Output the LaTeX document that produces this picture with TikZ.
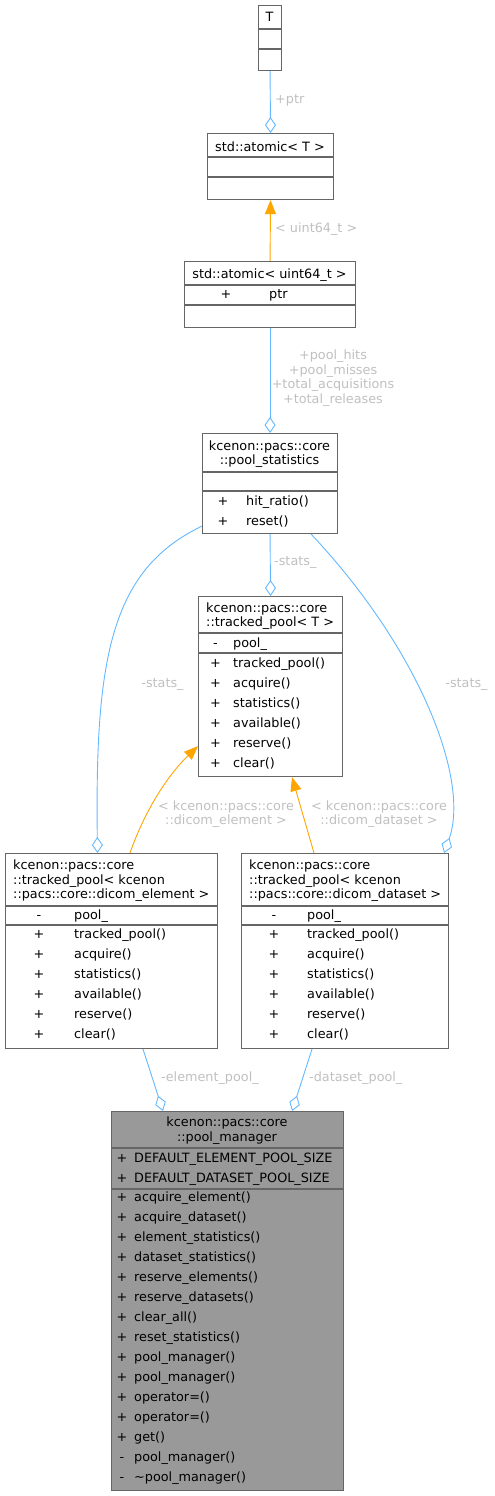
\documentclass[tikz,border=0pt]{standalone}
\usepackage{fontspec}
\setmainfont{DejaVu Sans}
\usetikzlibrary{arrows.meta}
\definecolor{edgeblue}{HTML}{63B8FF}
\definecolor{edgeorange}{HTML}{FFA500}
\definecolor{lblgray}{HTML}{C0C0C0}
\definecolor{boxgray}{HTML}{666666}
\definecolor{mgrfill}{HTML}{999999}
\newcommand{\dfont}{\fontsize{12.8}{14.6}\selectfont}
\begin{document}
\begin{tikzpicture}[x=1pt,y=-1pt,
 umlbox/.style={draw=boxgray, line width=1.1pt, fill=white, inner sep=0, anchor=north west},
 sepline/.style={draw=boxgray, line width=1.1pt},
 txt/.style={inner sep=0, anchor=base west, font=\dfont},
 ctxt/.style={inner sep=0, anchor=base, font=\dfont},
 sgn/.style={inner sep=0, anchor=base, font=\dfont},
 lbl/.style={inner sep=0, font=\dfont, text=lblgray},
 assoc/.style={draw=edgeblue, line width=0.9pt, -{Diamond[open, length=16pt, width=11pt]}},
 inherit/.style={draw=edgeorange, line width=0.9pt, -{Triangle[length=14pt, width=11pt]}}
]
\useasboundingbox (0,0) rectangle (495,1496);

% ---------- T ----------
\node[umlbox, minimum width=23pt, minimum height=65pt] (T) at (258,5) {};
\draw[sepline] (258,29) -- (281,29);
\draw[sepline] (258,49) -- (281,49);
\node[ctxt] (tT) at (269.5,21.7) {T};

% ---------- std::atomic<T> ----------
\node[umlbox, minimum width=126pt, minimum height=66pt] (atomT) at (207,133) {};
\draw[sepline] (207,157) -- (333,157);
\draw[sepline] (207,177) -- (333,177);
\node[ctxt] (tAT) at (270,151.3) {std::atomic< T >};

% ---------- std::atomic<uint64_t> ----------
\node[umlbox, minimum width=171pt, minimum height=66pt] (atomU) at (184,261) {};
\draw[sepline] (184,285) -- (355,285);
\draw[sepline] (184,305) -- (355,305);
\node[ctxt] (tAU) at (269.5,278.3) {std::atomic< uint64\_t >};
\node[sgn] (aUs) at (226,298) {+};
\node[txt] (aUn) at (269,298) {ptr};

% ---------- pool_statistics ----------
\node[umlbox, minimum width=135pt, minimum height=100pt] (stat) at (202,433) {};
\draw[sepline] (202,472) -- (337,472);
\draw[sepline] (202,491) -- (337,491);
\node[ctxt] (tS1) at (269.5,450.5) {kcenon::pacs::core};
\node[ctxt] (tS2) at (269.5,464.8) {::pool\_statistics};
\node[sgn] (sS1) at (223,505) {+};
\node[txt] (sN1) at (246,505) {hit\_ratio()};
\node[sgn] (sS2) at (223,525) {+};
\node[txt] (sN2) at (246,525) {reset()};

% ---------- tracked_pool<T> ----------
\node[umlbox, minimum width=144pt, minimum height=180pt] (tpT) at (198,596) {};
\draw[sepline] (198,633) -- (342,633);
\draw[sepline] (198,653) -- (342,653);
\node[txt] (tP1) at (206,612.3) {kcenon::pacs::core};
\node[txt] (tP2) at (206,626.8) {::tracked\_pool< T >};
\node[sgn] (pS0) at (215.5,647.3) {-};
\node[txt] (pN0) at (233,647.3) {pool\_};
\foreach \t [count=\i] in {tracked\_pool(),acquire(),statistics(),available(),reserve(),clear()} {
  \node[sgn] (pS\i) at (215.5,{667.3+20*(\i-1)}) {+};
  \node[txt] (pN\i) at (233,{667.3+20*(\i-1)}) {\t};
}

% ---------- tracked_pool<dicom_element> ----------
\node[umlbox, minimum width=212pt, minimum height=195pt] (elem) at (5,853) {};
\draw[sepline] (5,906) -- (217,906);
\draw[sepline] (5,925) -- (217,925);
\node[txt] (tE1) at (13,869.5) {kcenon::pacs::core};
\node[txt] (tE2) at (13,884) {::tracked\_pool< kcenon};
\node[txt] (tE3) at (13,898.5) {::pacs::core::dicom\_element >};
\node[sgn] (eS0) at (39,919.3) {-};
\node[txt] (eN0) at (74,919.3) {pool\_};
\foreach \t [count=\i] in {tracked\_pool(),acquire(),statistics(),available(),reserve(),clear()} {
  \node[sgn] (eS\i) at (39,{938.3+20*(\i-1)}) {+};
  \node[txt] (eN\i) at (74,{938.3+20*(\i-1)}) {\t};
}

% ---------- tracked_pool<dicom_dataset> ----------
\node[umlbox, minimum width=207pt, minimum height=195pt] (data) at (241,853) {};
\draw[sepline] (241,906) -- (448,906);
\draw[sepline] (241,925) -- (448,925);
\node[txt] (tD1) at (249,869.5) {kcenon::pacs::core};
\node[txt] (tD2) at (249,884) {::tracked\_pool< kcenon};
\node[txt] (tD3) at (249,898.5) {::pacs::core::dicom\_dataset >};
\node[sgn] (dS0) at (274,919.3) {-};
\node[txt] (dN0) at (307,919.3) {pool\_};
\foreach \t [count=\i] in {tracked\_pool(),acquire(),statistics(),available(),reserve(),clear()} {
  \node[sgn] (dS\i) at (274,{938.3+20*(\i-1)}) {+};
  \node[txt] (dN\i) at (307,{938.3+20*(\i-1)}) {\t};
}

% ---------- pool_manager ----------
\node[umlbox, fill=mgrfill, minimum width=232pt, minimum height=379pt] (mgr) at (111,1111) {};
\draw[sepline] (111,1148) -- (343,1148);
\draw[sepline] (111,1189) -- (343,1189);
\node[ctxt] (tM1) at (227,1126.5) {kcenon::pacs::core};
\node[ctxt] (tM2) at (227,1141.8) {::pool\_manager};
\node[sgn] (mA1s) at (122,1162) {+};
\node[txt] (mA1) at (134,1162) {DEFAULT\_ELEMENT\_POOL\_SIZE};
\node[sgn] (mA2s) at (122,1182) {+};
\node[txt] (mA2) at (134,1182) {DEFAULT\_DATASET\_POOL\_SIZE};
\foreach \s/\t [count=\i] in {+/acquire\_element(),+/acquire\_dataset(),+/element\_statistics(),+/dataset\_statistics(),+/reserve\_elements(),+/reserve\_datasets(),+/clear\_all(),+/reset\_statistics(),+/pool\_manager(),+/pool\_manager(),+/operator=(),+/operator=(),+/get(),-/pool\_manager(),-/\textasciitilde pool\_manager()} {
  \node[sgn] (mS\i) at (122,{1201+20*(\i-1)}) {\s};
  \node[txt] (mN\i) at (134,{1201+20*(\i-1)}) {\t};
}

% ---------- connectors ----------
\draw[assoc] (T.south) -- (atomT.north);
\draw[inherit] (atomU.north) -- (atomT.south);
\draw[assoc] (atomU.south) -- (stat.north);
\draw[assoc] (stat.south) -- (tpT.north);
\draw[assoc] ([yshift=8pt]stat.south west) .. controls (110,570) and (95,660) .. ([xshift=92.5pt]elem.north west);
\draw[assoc] ([xshift=-27pt]stat.south east) .. controls (420,650) and (470,780) .. ([xshift=-5pt]data.north east);
\draw[inherit] ([xshift=125pt]elem.north west) .. controls (145,810) and (168,775) .. ([yshift=31pt]tpT.south west);
\draw[inherit] ([xshift=73pt]data.north west) -- ([xshift=94pt]tpT.south west);
\draw[assoc] ([xshift=138pt]elem.south west) -- ([xshift=52pt]mgr.north west);
\draw[assoc] ([xshift=71pt]data.south west) -- ([xshift=-52pt]mgr.north east);

% ---------- connector labels ----------
\node[lbl, anchor=west] (lptr) at (275,100) {+ptr};
\node[lbl, anchor=west] (lu64) at (275,229) {< uint64\_t >};
\node[lbl, align=center] (lstats) at (333,378) {+pool\_hits\\+pool\_misses\\+total\_acquisitions\\+total\_releases};
\node[lbl, anchor=west] (ls1) at (274,563) {-stats\_};
\node[lbl] (ls2) at (162.5,685) {-stats\_};
\node[lbl] (ls3) at (466.5,685) {-stats\_};
\node[lbl, align=center] (lelem) at (226,814) {< kcenon::pacs::core\\::dicom\_element >};
\node[lbl, align=center] (ldata) at (379,814) {< kcenon::pacs::core\\::dicom\_dataset >};
\node[lbl, anchor=west] (lep) at (161,1078) {-element\_pool\_};
\node[lbl, anchor=west] (ldp) at (309,1078) {-dataset\_pool\_};
\end{tikzpicture}
\end{document}
